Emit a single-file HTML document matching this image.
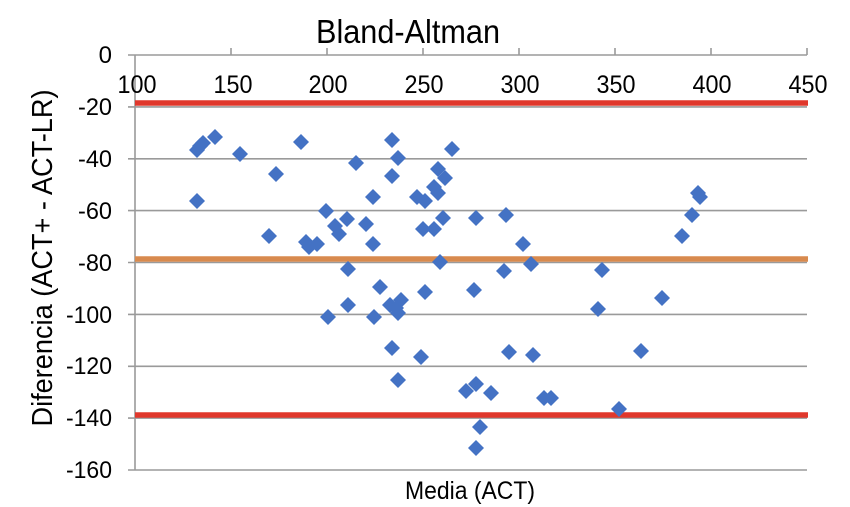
<!DOCTYPE html>
<html><head><meta charset="utf-8"><style>html,body{margin:0;padding:0;background:#fff}svg{display:block}</style></head>
<body>
<svg width="850" height="507" viewBox="0 0 850 507" xmlns="http://www.w3.org/2000/svg" font-family="Liberation Sans, Arial, sans-serif">
<rect width="850" height="507" fill="#fff"/>
<text x="408" y="43" font-size="33" text-anchor="middle" textLength="184" lengthAdjust="spacingAndGlyphs">Bland-Altman</text>
<g stroke="#9a9a9a" stroke-width="1.6">
<line x1="128" y1="106.9" x2="807" y2="106.9"/>
<line x1="128" y1="158.8" x2="807" y2="158.8"/>
<line x1="128" y1="210.6" x2="807" y2="210.6"/>
<line x1="128" y1="262.5" x2="807" y2="262.5"/>
<line x1="128" y1="314.4" x2="807" y2="314.4"/>
<line x1="128" y1="366.3" x2="807" y2="366.3"/>
<line x1="128" y1="418.1" x2="807" y2="418.1"/>
<line x1="128" y1="470" x2="807" y2="470"/>
<line x1="128" y1="55" x2="807" y2="55"/>
<line x1="135" y1="55" x2="135" y2="470"/>
<line x1="231" y1="48" x2="231" y2="55"/><line x1="327" y1="48" x2="327" y2="55"/><line x1="423" y1="48" x2="423" y2="55"/><line x1="519" y1="48" x2="519" y2="55"/><line x1="615" y1="48" x2="615" y2="55"/><line x1="711" y1="48" x2="711" y2="55"/><line x1="807" y1="48" x2="807" y2="55"/>
</g>
<g font-size="25" text-anchor="middle">
<text x="137" y="93" textLength="39" lengthAdjust="spacingAndGlyphs">100</text>
<text x="233" y="93" textLength="39" lengthAdjust="spacingAndGlyphs">150</text>
<text x="328" y="93" textLength="39" lengthAdjust="spacingAndGlyphs">200</text>
<text x="424" y="93" textLength="39" lengthAdjust="spacingAndGlyphs">250</text>
<text x="520" y="93" textLength="39" lengthAdjust="spacingAndGlyphs">300</text>
<text x="616" y="93" textLength="39" lengthAdjust="spacingAndGlyphs">350</text>
<text x="712" y="93" textLength="39" lengthAdjust="spacingAndGlyphs">400</text>
<text x="808" y="93" textLength="39" lengthAdjust="spacingAndGlyphs">450</text>
</g>
<g font-size="24" text-anchor="end">
<text x="112" y="63">0</text>
<text x="112" y="115" textLength="34" lengthAdjust="spacingAndGlyphs">-20</text>
<text x="112" y="167" textLength="34" lengthAdjust="spacingAndGlyphs">-40</text>
<text x="112" y="219" textLength="34" lengthAdjust="spacingAndGlyphs">-60</text>
<text x="112" y="271" textLength="34" lengthAdjust="spacingAndGlyphs">-80</text>
<text x="112" y="323" textLength="46" lengthAdjust="spacingAndGlyphs">-100</text>
<text x="112" y="374" textLength="46" lengthAdjust="spacingAndGlyphs">-120</text>
<text x="112" y="426" textLength="46" lengthAdjust="spacingAndGlyphs">-140</text>
<text x="112" y="478" textLength="46" lengthAdjust="spacingAndGlyphs">-160</text>
</g>
<text transform="translate(52,258) rotate(-90)" font-size="29" text-anchor="middle" textLength="337" lengthAdjust="spacingAndGlyphs">Diferencia (ACT+ - ACT-LR)</text>
<text x="470" y="499" font-size="25" text-anchor="middle" textLength="130" lengthAdjust="spacingAndGlyphs">Media (ACT)</text>
<line x1="135" y1="103" x2="808" y2="103" stroke="#e0382c" stroke-width="5.5"/>
<line x1="135" y1="259" x2="808" y2="259" stroke="#d88a4e" stroke-width="5.5"/>
<line x1="135" y1="415" x2="808" y2="415" stroke="#e0382c" stroke-width="5.5"/>
<g fill="#4472c4" transform="translate(0,0)">
<path d="M197,142l8,8l-8,8l-8,-8z"/><path d="M200,138l8,8l-8,8l-8,-8z"/><path d="M203,135l8,8l-8,8l-8,-8z"/><path d="M215,129l8,8l-8,8l-8,-8z"/><path d="M240,146l8,8l-8,8l-8,-8z"/><path d="M197,193l8,8l-8,8l-8,-8z"/><path d="M276,166l8,8l-8,8l-8,-8z"/><path d="M269,228l8,8l-8,8l-8,-8z"/><path d="M301,134l8,8l-8,8l-8,-8z"/><path d="M306,234l8,8l-8,8l-8,-8z"/><path d="M309,239l8,8l-8,8l-8,-8z"/><path d="M317,236l8,8l-8,8l-8,-8z"/><path d="M326,203l8,8l-8,8l-8,-8z"/><path d="M335,218l8,8l-8,8l-8,-8z"/><path d="M339,226l8,8l-8,8l-8,-8z"/><path d="M347,211l8,8l-8,8l-8,-8z"/><path d="M356,155l8,8l-8,8l-8,-8z"/><path d="M366,216l8,8l-8,8l-8,-8z"/><path d="M373,189l8,8l-8,8l-8,-8z"/><path d="M373,236l8,8l-8,8l-8,-8z"/><path d="M392,132l8,8l-8,8l-8,-8z"/><path d="M398,150l8,8l-8,8l-8,-8z"/><path d="M392,168l8,8l-8,8l-8,-8z"/><path d="M417,189l8,8l-8,8l-8,-8z"/><path d="M425,193l8,8l-8,8l-8,-8z"/><path d="M423,221l8,8l-8,8l-8,-8z"/><path d="M434,221l8,8l-8,8l-8,-8z"/><path d="M434,179l8,8l-8,8l-8,-8z"/><path d="M438,185l8,8l-8,8l-8,-8z"/><path d="M438,161l8,8l-8,8l-8,-8z"/><path d="M445,170l8,8l-8,8l-8,-8z"/><path d="M443,210l8,8l-8,8l-8,-8z"/><path d="M452,141l8,8l-8,8l-8,-8z"/><path d="M476,210l8,8l-8,8l-8,-8z"/><path d="M506,207l8,8l-8,8l-8,-8z"/><path d="M523,236l8,8l-8,8l-8,-8z"/><path d="M682,228l8,8l-8,8l-8,-8z"/><path d="M692,207l8,8l-8,8l-8,-8z"/><path d="M698,185l8,8l-8,8l-8,-8z"/><path d="M700,189l8,8l-8,8l-8,-8z"/>
<path d="M348,261l8,8l-8,8l-8,-8z"/><path d="M328,309l8,8l-8,8l-8,-8z"/><path d="M348,297l8,8l-8,8l-8,-8z"/><path d="M380,279l8,8l-8,8l-8,-8z"/><path d="M374,309l8,8l-8,8l-8,-8z"/><path d="M390,297l8,8l-8,8l-8,-8z"/><path d="M396,300l8,8l-8,8l-8,-8z"/><path d="M401,292l8,8l-8,8l-8,-8z"/><path d="M398,305l8,8l-8,8l-8,-8z"/><path d="M392,340l8,8l-8,8l-8,-8z"/><path d="M398,372l8,8l-8,8l-8,-8z"/><path d="M425,284l8,8l-8,8l-8,-8z"/><path d="M421,349l8,8l-8,8l-8,-8z"/><path d="M440,254l8,8l-8,8l-8,-8z"/><path d="M474,282l8,8l-8,8l-8,-8z"/><path d="M466,383l8,8l-8,8l-8,-8z"/><path d="M476,376l8,8l-8,8l-8,-8z"/><path d="M491,385l8,8l-8,8l-8,-8z"/><path d="M480,419l8,8l-8,8l-8,-8z"/><path d="M476,440l8,8l-8,8l-8,-8z"/><path d="M504,263l8,8l-8,8l-8,-8z"/><path d="M531,256l8,8l-8,8l-8,-8z"/><path d="M509,344l8,8l-8,8l-8,-8z"/><path d="M533,347l8,8l-8,8l-8,-8z"/><path d="M544,390l8,8l-8,8l-8,-8z"/><path d="M551,390l8,8l-8,8l-8,-8z"/>
<path d="M602,262l8,8l-8,8l-8,-8z"/><path d="M662,290l8,8l-8,8l-8,-8z"/><path d="M598,301l8,8l-8,8l-8,-8z"/><path d="M641,343l8,8l-8,8l-8,-8z"/><path d="M619,401l8,8l-8,8l-8,-8z"/>
</g>
</svg>
</body></html>
